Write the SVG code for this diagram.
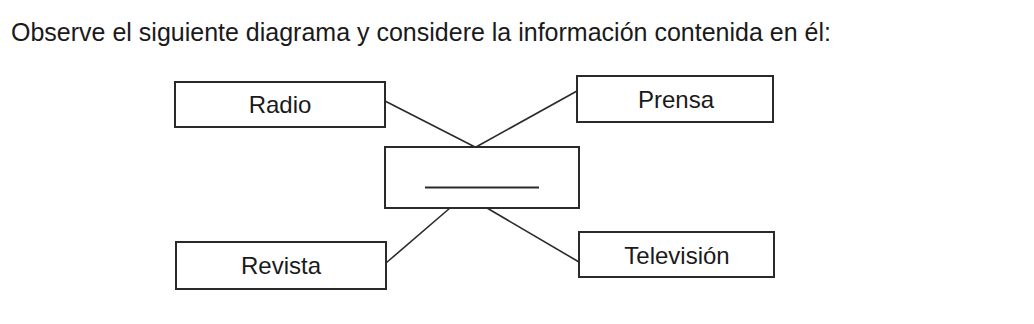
<svg xmlns="http://www.w3.org/2000/svg" width="1034" height="324" viewBox="0 0 1034 324">
<style>
.box{fill:#fff;stroke:#2a2a2a;stroke-width:2}
.lbl{font-family:"Liberation Sans",Arial,sans-serif;font-size:24px;fill:#1a1a1a;text-anchor:middle}
.title{font-family:"Liberation Sans",Arial,sans-serif;font-size:25px;fill:#1a1a1a}
.con{stroke:#2a2a2a;stroke-width:1.6;fill:none}
</style>
<rect width="1034" height="324" fill="#fff"/>
<text class="title" x="11" y="41">Observe el siguiente diagrama y considere la información contenida en él:</text>
<g id="connectors">
<line class="con" x1="385" y1="101" x2="475" y2="147"/>
<line class="con" x1="577" y1="91" x2="476" y2="147"/>
<line class="con" x1="386" y1="263" x2="450" y2="208"/>
<line class="con" x1="487" y1="208" x2="579" y2="262"/>
</g>
<g id="radio"><rect class="box" x="175" y="82" width="210" height="45"/><text class="lbl" x="280" y="113">Radio</text></g>
<g id="prensa"><rect class="box" x="577" y="76" width="196" height="46"/><text class="lbl" x="676" y="108">Prensa</text></g>
<g id="center"><rect class="box" x="385" y="147" width="194" height="61"/><line x1="425" y1="187.5" x2="539" y2="187.5" stroke="#2a2a2a" stroke-width="2"/></g>
<g id="revista"><rect class="box" x="176" y="242" width="210" height="47"/><text class="lbl" x="281" y="274">Revista</text></g>
<g id="television"><rect class="box" x="579" y="232" width="195" height="45"/><text class="lbl" x="677" y="264">Televisión</text></g>
</svg>
